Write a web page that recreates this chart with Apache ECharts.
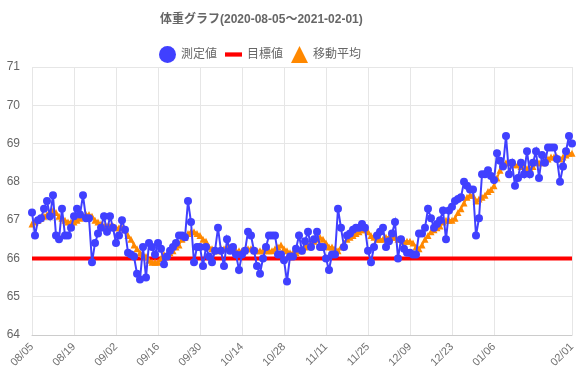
<!DOCTYPE html>
<html>
<head>
<meta charset="utf-8">
<script src="https://cdn.jsdelivr.net/npm/echarts@6/dist/echarts.min.js"></script>
<style>html,body{margin:0;padding:0;background:#fff}#chart{width:580px;height:390px}</style>
</head>
<body>
<div id="chart"></div>
<script>
// Chart data
const TITLE = '体重グラフ(2020-08-05～2021-02-01)';
const START = [2020, 7, 5]; // 2020-08-05
const DAY_COUNT = 181;      // 2020-08-05 .. 2021-02-01
const TARGET = 66;
const tickLabels = ['08/05','08/19','09/02','09/16','09/30','10/14','10/28','11/11','11/25','12/09','12/23','01/06','02/01'];
const yTicks = [64, 65, 66, 67, 68, 69, 70, 71];

const measured = [
  67.2, 66.6, 67.0, 67.05, 67.3, 67.5, 67.1, 67.65, 66.6, 66.5,
  67.3, 66.6, 66.6, 66.8, 67.1, 67.3, 67.15, 67.65, 67.05, 67.05,
  65.9, 66.4, 66.65, 66.8, 67.1, 66.7, 67.1, 66.8, 66.4, 66.6,
  67.0, 66.75, 66.15, 66.1, 66.05, 65.6, 65.45, 66.3, 65.5, 66.4,
  66.3, 66.1, 66.4, 66.25, 65.85, 66.05, 66.2, 66.3, 66.4, 66.6,
  66.6, 66.55, 67.5, 66.95, 65.9, 66.3, 66.3, 65.8, 66.3, 66.05,
  65.9, 66.2, 66.8, 66.2, 65.8, 66.5, 66.2, 66.3, 66.1, 65.7,
  66.1, 66.2, 66.7, 66.6, 66.2, 65.8, 65.6, 66.0, 66.3, 66.6,
  66.6, 66.6, 66.1, 66.1, 65.95, 65.4, 66.05, 66.05, 66.25, 66.6,
  66.2, 66.45, 66.7, 66.3, 66.5, 66.7, 66.3, 66.3, 66.0, 65.7,
  66.1, 66.1, 67.3, 66.8, 66.3, 66.6, 66.65, 66.75, 66.8, 66.8,
  66.9, 66.8, 66.2, 65.9, 66.3, 66.6, 66.7, 66.8, 66.3, 66.45,
  66.65, 66.95, 66.0, 66.5, 66.25, 66.15, 66.15, 66.1, 66.1, 66.65,
  66.65, 66.8, 67.3, 67.05, 66.8, 66.9, 67.0, 67.25, 66.5, 67.25,
  67.35, 67.5, 67.55, 67.6, 68.0, 67.9, 67.8, 67.8, 66.6, 67.05,
  68.2, 68.2, 68.3, 68.15, 68.05, 68.75, 68.55, 68.4, 69.2, 68.2,
  68.5, 67.9, 68.1, 68.5, 68.2, 68.8, 68.2, 68.5, 68.8, 68.1,
  68.7, 68.5, 68.9, 68.9, 68.9, 68.6, 68.0, 68.4, 68.8, 69.2,
  69.0
];

const movingAvg = [
  66.9, 66.95, 67.0, 67.05, 67.1, 67.15, 67.2, 67.25, 67.2, 67.1,
  67.05, 67.0, 66.95, 66.95, 66.95, 67.0, 67.05, 67.1, 67.15, 67.15,
  67.1, 67.0, 66.95, 66.9, 66.85, 66.85, 66.85, 66.85, 66.8, 66.8,
  66.8, 66.75, 66.6, 66.5, 66.35, 66.25, 66.15, 66.1, 66.05, 65.95,
  65.9, 65.9, 65.9, 66.0, 66.1, 66.1, 66.15, 66.2, 66.3, 66.35,
  66.5, 66.55, 66.65, 66.7, 66.7, 66.65, 66.6, 66.5, 66.45, 66.3,
  66.25, 66.2, 66.2, 66.25, 66.25, 66.3, 66.3, 66.25, 66.2, 66.2,
  66.2, 66.2, 66.25, 66.25, 66.2, 66.2, 66.2, 66.2, 66.2, 66.2,
  66.2, 66.25, 66.3, 66.35, 66.25, 66.2, 66.15, 66.15, 66.15, 66.2,
  66.2, 66.3, 66.35, 66.4, 66.45, 66.5, 66.55, 66.5, 66.4, 66.3,
  66.3, 66.25, 66.2, 66.3, 66.4, 66.5, 66.55, 66.6, 66.65, 66.7,
  66.75, 66.75, 66.7, 66.6, 66.55, 66.5, 66.5, 66.5, 66.55, 66.55,
  66.55, 66.55, 66.5, 66.5, 66.45, 66.45, 66.45, 66.4, 66.3, 66.25,
  66.35, 66.5, 66.6, 66.7, 66.75, 66.8, 66.85, 66.95, 67.0, 67.0,
  67.0, 67.05, 67.2, 67.3, 67.45, 67.6, 67.65, 67.65, 67.5, 67.55,
  67.6, 67.65, 67.75, 67.8, 67.9, 68.1, 68.3, 68.45, 68.5, 68.5,
  68.5, 68.45, 68.45, 68.4, 68.4, 68.35, 68.35, 68.4, 68.5, 68.5,
  68.5, 68.55, 68.6, 68.65, 68.65, 68.65, 68.6, 68.65, 68.7, 68.75,
  68.75
];

// Categories: one per day
const dates = [];
for (let i = 0; i < DAY_COUNT; i++) {
  const d = new Date(START[0], START[1], START[2] + i);
  dates.push(String(d.getMonth() + 1).padStart(2, '0') + '/' + String(d.getDate()).padStart(2, '0'));
}
const showTick = (i, v) => tickLabels.includes(dates[i]);

const chart = echarts.init(document.getElementById('chart'), null, {renderer: 'canvas'});
chart.setOption({
  animation: false,
  textStyle: {fontFamily: "'Liberation Sans', 'Noto Sans CJK JP', sans-serif"},
  title: {
    text: TITLE, left: 155, top: 9,
    textStyle: {fontSize: 12, fontWeight: 'bold', color: '#666'}
  },
  legend: {
    top: 41, left: 154, itemWidth: 17, itemHeight: 17, itemGap: 8,
    textStyle: {fontSize: 12, color: '#666'},
    data: [
      {name: '測定値', icon: 'circle'},
      {name: '目標値', icon: 'path://M0,0h16v4h-16z'},
      {name: '移動平均', icon: 'triangle'}
    ]
  },
  grid: {left: 32, right: 8, top: 67, bottom: 55},
  xAxis: {
    type: 'category', boundaryGap: false, data: dates,
    axisLine: {lineStyle: {color: '#ccc'}},
    axisTick: {show: false},
    axisLabel: {rotate: 45, interval: showTick, color: '#707070', fontSize: 11, margin: 10},
    splitLine: {show: true, interval: showTick, lineStyle: {color: '#e6e6e6'}}
  },
  yAxis: {
    type: 'value', min: yTicks[0], max: yTicks[yTicks.length - 1], interval: 1,
    axisLine: {show: false}, axisTick: {show: false},
    axisLabel: {color: '#666', fontSize: 12, margin: 12},
    splitLine: {lineStyle: {color: '#e6e6e6'}}
  },
  series: [
    {
      name: '目標値', type: 'line', z: 2,
      data: [[dates[0], TARGET], [dates[DAY_COUNT - 1], TARGET]],
      symbol: 'none', itemStyle: {color: '#ff0000'},
      lineStyle: {color: '#ff0000', width: 4}
    },
    {
      name: '移動平均', type: 'line', z: 3, data: movingAvg,
      symbol: 'triangle', symbolSize: 7, showAllSymbol: true,
      itemStyle: {color: '#ff8800'},
      lineStyle: {color: '#ff8800', width: 2}
    },
    {
      name: '測定値', type: 'line', z: 4, data: measured,
      symbol: 'circle', symbolSize: 8, showAllSymbol: true,
      itemStyle: {color: '#4040ff'},
      lineStyle: {color: '#4040ff', width: 2, join: 'miter', miterLimit: 6}
    }
  ]
});
</script>
</body>
</html>
